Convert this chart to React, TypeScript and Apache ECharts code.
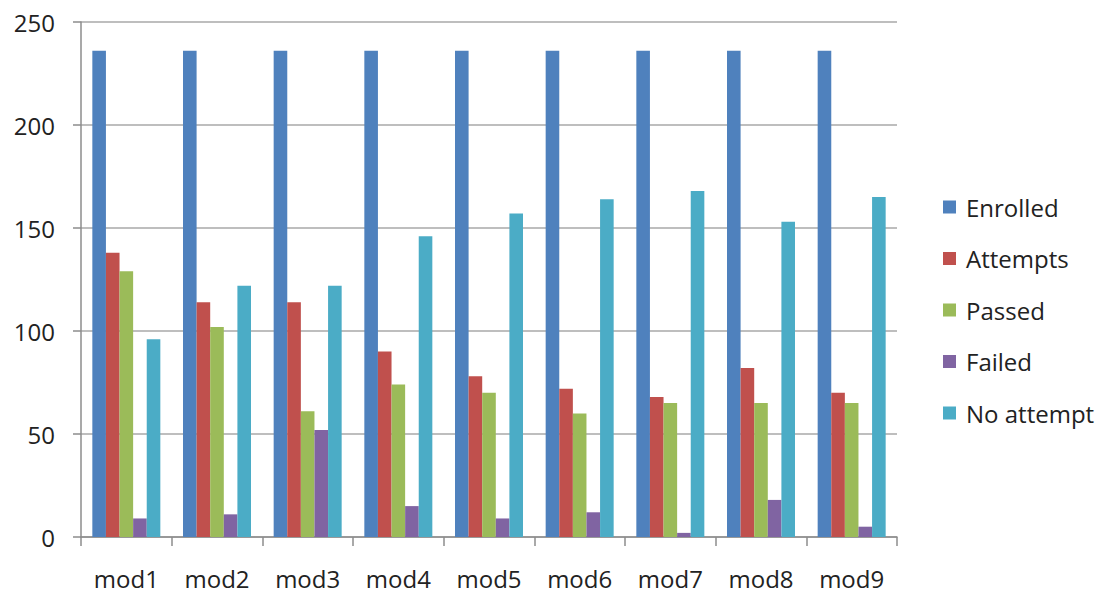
import React, { useEffect, useRef } from "react";
import * as echarts from "echarts";

const categories = ["mod1", "mod2", "mod3", "mod4", "mod5", "mod6", "mod7", "mod8", "mod9"];
const enrolled = [236, 236, 236, 236, 236, 236, 236, 236, 236];
const attempts = [138, 114, 114, 90, 78, 72, 68, 82, 70];
const passed = [129, 102, 61, 74, 70, 60, 65, 65, 65];
const failed = [9, 11, 52, 15, 9, 12, 2, 18, 5];
const noAttempt = [96, 122, 122, 146, 157, 164, 168, 153, 165];
const yTicks = { min: 0, max: 250, interval: 50 };

const seriesDefs = [
  { name: "Enrolled", data: enrolled, color: "#4F81BD" },
  { name: "Attempts", data: attempts, color: "#C0504D" },
  { name: "Passed", data: passed, color: "#9BBB59" },
  { name: "Failed", data: failed, color: "#8064A2" },
  { name: "No attempt", data: noAttempt, color: "#4BACC6" },
];

const FONT = "'Open Sans', Lato, sans-serif";

export default function App() {
  const ref = useRef<HTMLDivElement>(null);
  useEffect(() => {
    if (!ref.current) return;
    const chart = echarts.init(ref.current, null, { renderer: "svg" });
    chart.setOption({
      animation: false,
      backgroundColor: "#ffffff",
      textStyle: { fontFamily: FONT },
      grid: { left: 81, right: 205, top: 22, bottom: 59, containLabel: false },
      legend: {
        orient: "vertical",
        left: 938,
        top: 189,
        itemWidth: 13,
        itemHeight: 13,
        itemGap: 25.5,
        itemStyle: { borderWidth: 0 },
        icon: "rect",
        textStyle: { fontFamily: FONT, fontSize: 24, color: "#222222", lineHeight: 26, padding: [0, 0, 0, 5] },
        data: seriesDefs.map((s) => s.name),
      },
      xAxis: {
        type: "category",
        data: categories,
        boundaryGap: true,
        axisLine: { show: true, lineStyle: { color: "#8c8c8c", width: 1.5 } },
        axisTick: { show: true, length: 9, lineStyle: { color: "#8c8c8c", width: 1.5 } },
        axisLabel: { fontFamily: FONT, fontSize: 24, color: "#222222", margin: 29 },
        splitLine: { show: false },
      },
      yAxis: {
        type: "value",
        min: yTicks.min,
        max: yTicks.max,
        interval: yTicks.interval,
        axisLine: { show: true, lineStyle: { color: "#8c8c8c", width: 1.5 } },
        axisTick: { show: true, length: 8, lineStyle: { color: "#8c8c8c", width: 1.5 } },
        axisLabel: { fontFamily: FONT, fontSize: 24, color: "#222222", margin: 26 },
        splitLine: { show: true, lineStyle: { color: "#a8a8a8", width: 1.5 } },
      },
      series: seriesDefs.map((s) => ({
        name: s.name,
        type: "bar",
        data: s.data,
        barGap: "0%",
        barCategoryGap: "25%",
        itemStyle: { color: s.color },
      })),
    });
    return () => chart.dispose();
  }, []);
  return (
    <div
      ref={ref}
      style={{ position: "fixed", left: 0, top: 0, width: 1102, height: 596, background: "#fff" }}
    />
  );
}
